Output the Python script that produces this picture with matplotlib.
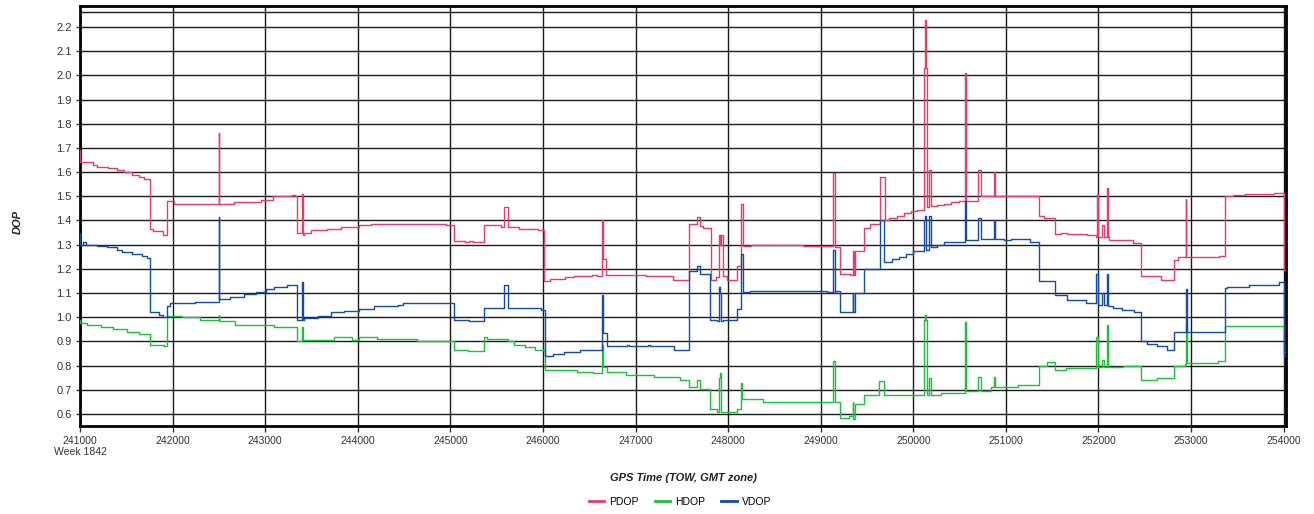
import matplotlib
matplotlib.use("Agg")
import matplotlib.pyplot as plt
import matplotlib.ticker as mticker

plt.rcParams['font.family'] = ['Liberation Sans', 'DejaVu Sans']

# ── data (GPS TOW seconds, step values) ─────────────────────────────────
PDOP_T = [241000, 241005, 241137, 241188, 241307, 241397, 241470, 241560, 241632, 241693,
          241751, 241787, 241895, 241939, 242011, 242496, 242500, 242506, 242661, 242950,
          243087, 243292, 243320, 243347, 243398, 243406, 243420, 243491, 243671, 243823,
          244015, 244141, 244953, 245036, 245163, 245206, 245242, 245361, 245545, 245585,
          245628, 245737, 245946, 246011, 246073, 246235, 246340, 246526, 246580, 246639,
          246645, 246680, 247113, 247401, 247581, 247660, 247696, 247732, 247811, 247869,
          247905, 247912, 247920, 247941, 247984, 248092, 248135, 248164, 248243, 248805,
          249131, 249160, 249206, 249322, 249348, 249356, 249376, 249466, 249531, 249639,
          249690, 249700, 249737, 249825, 249897, 249971, 250040, 250120, 250130, 250136,
          250146, 250170, 250190, 250253, 250332, 250405, 250495, 250560, 250568, 250700,
          250735, 250870, 250885, 251361, 251415, 251535, 251596, 251661, 251872, 251972,
          251980, 252000, 252037, 252062, 252092, 252100, 252116, 252369, 252463, 252672,
          252820, 252863, 252944, 252950, 253307, 253369, 253452, 253585, 253892, 253999,
          254020]
PDOP_V = [1.69, 1.64, 1.63, 1.62, 1.615, 1.61, 1.60, 1.59, 1.58, 1.57,
          1.365, 1.358, 1.34, 1.48, 1.468, 1.76, 1.61, 1.467, 1.475, 1.485,
          1.50, 1.505, 1.50, 1.35, 1.51, 1.34, 1.35, 1.36, 1.365, 1.375,
          1.38, 1.385, 1.38, 1.317, 1.31, 1.315, 1.31, 1.38, 1.375, 1.455,
          1.375, 1.365, 1.36, 1.151, 1.16, 1.165, 1.17, 1.175, 1.17, 1.40,
          1.24, 1.175, 1.17, 1.155, 1.386, 1.415, 1.378, 1.37, 1.155, 1.165,
          1.34, 1.30, 1.34, 1.17, 1.155, 1.21, 1.47, 1.295, 1.30, 1.295,
          1.595, 1.29, 1.18, 1.175, 1.275, 1.175, 1.275, 1.37, 1.385, 1.58,
          1.49, 1.40, 1.41, 1.42, 1.43, 1.44, 1.445, 2.03, 2.23, 2.03,
          1.455, 1.61, 1.46, 1.465, 1.47, 1.475, 1.48, 2.01, 1.48, 1.61,
          1.50, 1.60, 1.50, 1.42, 1.41, 1.345, 1.35, 1.345, 1.34, 1.33,
          1.51, 1.33, 1.38, 1.33, 1.535, 1.33, 1.32, 1.305, 1.17, 1.155,
          1.235, 1.25, 1.49, 1.25, 1.255, 1.50, 1.505, 1.51, 1.515, 1.195,
          1.195]

HDOP_T = [241000, 241005, 241072, 241224, 241361, 241505, 241632, 241758, 241902, 241939,
          242101, 242300, 242496, 242500, 242679, 243094, 243347, 243398, 243406, 243744,
          243943, 244015, 244203, 244640, 245036, 245195, 245369, 245397, 245628, 245693,
          245809, 245917, 246018, 246372, 246544, 246639, 246645, 246688, 246893, 247199,
          247480, 247581, 247660, 247696, 247804, 247876, 247905, 247912, 247920, 248092,
          248135, 248150, 248380, 249131, 249150, 249206, 249304, 249345, 249352, 249376,
          249466, 249628, 249683, 250120, 250130, 250136, 250146, 250170, 250190, 250296,
          250560, 250568, 250700, 250735, 250838, 250870, 250885, 251134, 251361, 251444,
          251535, 251650, 251972, 252000, 252037, 252062, 252092, 252100, 252268, 252463,
          252636, 252820, 252935, 252944, 252955, 253296, 253369, 253999, 254020]
HDOP_V = [0.99, 0.975, 0.967, 0.96, 0.95, 0.94, 0.93, 0.885, 0.88, 1.007,
          1.00, 0.99, 1.01, 0.985, 0.97, 0.96, 0.90, 0.96, 0.905, 0.918,
          0.904, 0.918, 0.91, 0.90, 0.865, 0.86, 0.918, 0.91, 0.90, 0.885,
          0.875, 0.865, 0.78, 0.772, 0.77, 0.885, 0.795, 0.773, 0.76, 0.752,
          0.742, 0.71, 0.742, 0.705, 0.62, 0.61, 0.75, 0.77, 0.61, 0.62,
          0.73, 0.66, 0.65, 0.82, 0.65, 0.585, 0.59, 0.65, 0.58, 0.64,
          0.68, 0.735, 0.68, 0.99, 1.01, 0.99, 0.68, 0.75, 0.68, 0.685,
          0.98, 0.695, 0.755, 0.695, 0.71, 0.755, 0.71, 0.72, 0.80, 0.815,
          0.78, 0.79, 0.92, 0.793, 0.825, 0.793, 0.97, 0.793, 0.80, 0.74,
          0.75, 0.80, 0.807, 0.97, 0.81, 0.82, 0.965, 0.855, 0.855]

VDOP_T = [241000, 241005, 241036, 241065, 241180, 241289, 241397, 241451, 241560, 241668,
          241722, 241758, 241848, 241895, 241939, 241967, 242245, 242496, 242500, 242506,
          242625, 242769, 242906, 243004, 243094, 243231, 243347, 243398, 243406, 243419,
          243571, 243708, 243852, 244015, 244177, 244430, 244484, 245036, 245206, 245361,
          245585, 245628, 245975, 246018, 246108, 246228, 246397, 246639, 246645, 246688,
          246905, 246930, 247140, 247160, 247415, 247581, 247660, 247700, 247804, 247876,
          247905, 247912, 247920, 247941, 248092, 248135, 248157, 248236, 249064, 249131,
          249150, 249160, 249206, 249345, 249352, 249376, 249466, 249639, 249683, 249770,
          249845, 249917, 250000, 250120, 250130, 250140, 250170, 250190, 250253, 250332,
          250560, 250568, 250700, 250735, 250870, 250885, 250980, 251054, 251264, 251361,
          251535, 251661, 251870, 251972, 252000, 252037, 252062, 252092, 252100, 252159,
          252260, 252383, 252463, 252528, 252636, 252744, 252820, 252944, 252955, 253369,
          253387, 253621, 253946, 253999, 254020]
VDOP_V = [1.35, 1.30, 1.31, 1.30, 1.295, 1.29, 1.28, 1.27, 1.26, 1.255,
          1.245, 1.02, 1.01, 1.00, 1.045, 1.06, 1.065, 1.415, 1.23, 1.075,
          1.085, 1.095, 1.105, 1.115, 1.125, 1.135, 0.99, 1.145, 0.99, 0.995,
          1.005, 1.02, 1.025, 1.035, 1.045, 1.05, 1.06, 0.99, 0.985, 1.04,
          1.135, 1.04, 1.03, 0.84, 0.85, 0.855, 0.866, 1.09, 0.935, 0.88,
          0.885, 0.88, 0.885, 0.88, 0.866, 1.19, 1.21, 1.18, 0.99, 0.985,
          1.125, 1.10, 0.985, 0.99, 1.035, 1.26, 1.105, 1.11, 1.105, 1.28,
          1.10, 1.11, 1.02, 1.10, 1.02, 1.10, 1.20, 1.40, 1.23, 1.24,
          1.25, 1.26, 1.275, 1.40, 1.42, 1.28, 1.42, 1.29, 1.30, 1.31,
          1.48, 1.32, 1.41, 1.325, 1.40, 1.325, 1.32, 1.325, 1.31, 1.15,
          1.09, 1.07, 1.06, 1.18, 1.05, 1.10, 1.05, 1.18, 1.045, 1.04,
          1.03, 1.02, 0.90, 0.89, 0.88, 0.865, 0.94, 1.115, 0.94, 1.12,
          1.125, 1.135, 1.145, 0.84, 0.84]

SERIES = [("PDOP", PDOP_T, PDOP_V, "#e33d68"),
          ("HDOP", HDOP_T, HDOP_V, "#1dbf3c"),
          ("VDOP", VDOP_T, VDOP_V, "#144aa8")]

X_TICKS = list(range(241000, 254001, 1000))
Y_TICKS = [round(0.6 + 0.1 * i, 1) for i in range(17)]

# ── figure ───────────────────────────────────────────────────────────────
fig = plt.figure(figsize=(13.14, 5.14), dpi=100)
ax = fig.add_axes([80 / 1314, 1 - 426 / 514, 1206 / 1314, 420 / 514])

for name, t, v, col in SERIES:
    ax.plot(t, v, drawstyle="steps-post", color=col, lw=1.0, label=name, zorder=3)

ax.set_xlim(241000, 254026)
ax.set_ylim(0.5504, 2.2868)
ax.set_xticks(X_TICKS)
ax.set_xticklabels(["241000\nWeek 1842"] + [str(x) for x in X_TICKS[1:]])
ax.set_yticks(Y_TICKS)
ax.yaxis.set_major_formatter(mticker.FormatStrFormatter("%.1f"))

ax.grid(True, color="#1a1a1a", lw=1.0, zorder=1)
ax.axhline(2.262, color="#1a1a1a", lw=1.0, zorder=1)
for s in ax.spines.values():
    s.set_linewidth(2.0)
    s.set_color("black")

ax.tick_params(axis="x", labelsize=7.5, colors="#333333", length=4, width=1, pad=3)
ax.tick_params(axis="y", labelsize=8, colors="#333333", length=3, width=1, pad=3)
for lab in ax.get_xticklabels():
    lab.set_multialignment("center")

ax.set_xlabel("GPS Time (TOW, GMT zone)", fontsize=8, fontweight="bold",
              fontstyle="italic", color="#222222", labelpad=11)
fig.text(18 / 1314, 1 - 222 / 514, "DOP", rotation=90, fontsize=8, fontweight="bold",
         fontstyle="italic", color="#222222", ha="center", va="center")

leg = fig.legend(loc="center", bbox_to_anchor=(680 / 1314, 1 - 502 / 514), ncol=3,
                 frameon=False, fontsize=7.5, handlelength=1.5, handletextpad=0.5,
                 columnspacing=1.5)
for line in leg.get_lines():
    line.set_linewidth(2)

fig.savefig("out.png", dpi=100)
